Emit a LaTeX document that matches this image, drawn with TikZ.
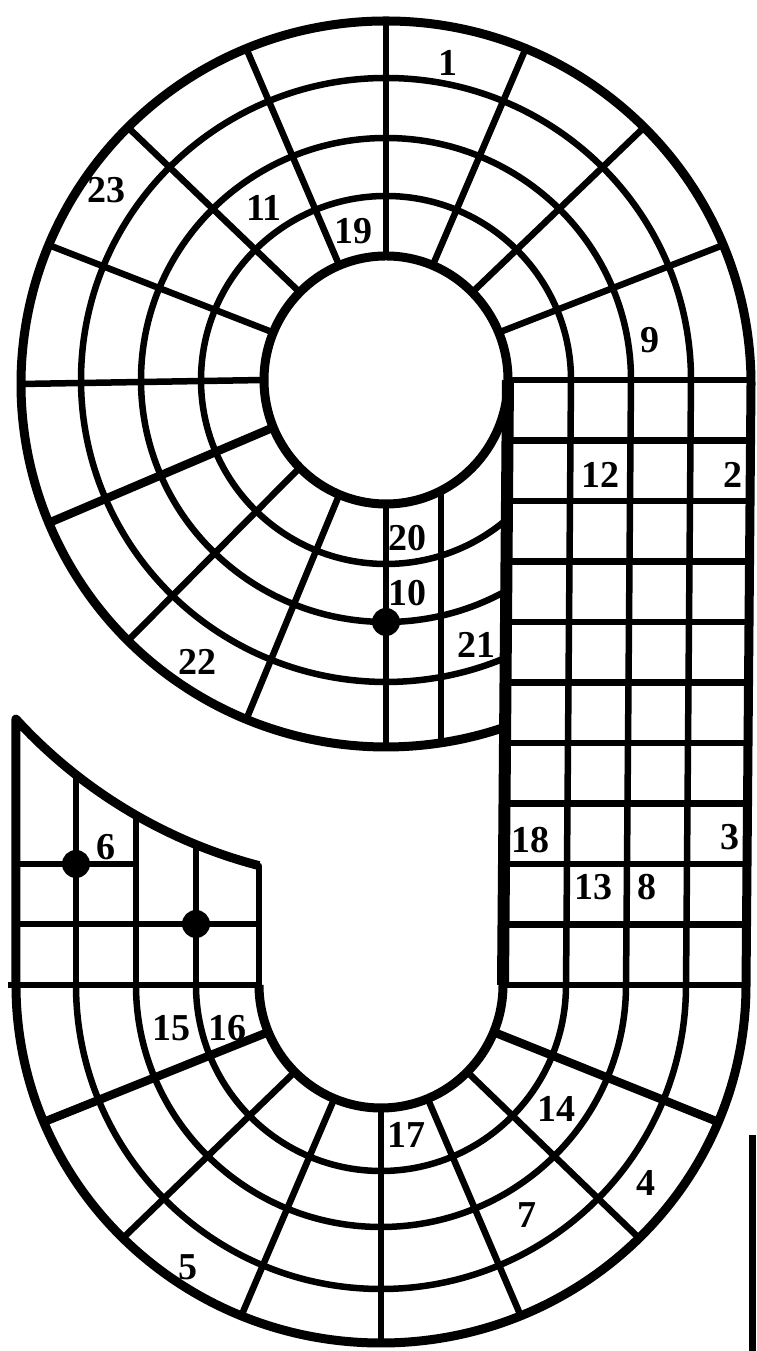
\documentclass[tikz,border=0pt]{standalone}
\usepackage{fontspec}
\setmainfont{Liberation Serif}
\usetikzlibrary{calc}
\tikzset{
    % Basic line styles of the board
    gridline/.style={line width=6.5pt, black},
    spokeline/.style={line width=8.5pt, black},
    rimline/.style={line width=9pt, black, line join=round},
    wallline/.style={line width=12pt, black},
    % Square numbers and markers
    squarelabel/.style={inner sep=0pt, font=\fontsize{38}{38}\selectfont\bfseries},
    marker/.style={circle, fill=black, minimum size=28pt, inner sep=0pt},
}

\begin{document}
\begin{tikzpicture}[x=1pt,y=1pt]
  \fill[white] (0,0) rectangle (756,1351);
  \useasboundingbox (0,0) rectangle (756,1351);
  % centres of the two wheels
  \coordinate (U) at (386,971);
  \coordinate (UO) at (386,967);
  \coordinate (L) at (381,366);
  % upper wheel: rings
  \draw[gridline] ($(U)+(185,0)$) arc[start angle=0, end angle=310.85, x radius=185, y radius=184];
  \draw[gridline] ($(U)+(245,0)$) arc[start angle=0, end angle=299.6, x radius=245, y radius=242];
  \draw[gridline] ($(U)+(305,0)$) arc[start angle=0, end angle=293.4, x radius=305, y radius=302];
  % upper wheel: spokes
  \draw[gridline] ($(U)+(22.5:122 and 124)$) -- ($(UO)+(22.5:365 and 363)$);
  \draw[gridline] ($(U)+(45:122 and 124)$) -- ($(UO)+(45:365 and 363)$);
  \draw[gridline] ($(U)+(67.5:122 and 124)$) -- ($(UO)+(67.5:365 and 363)$);
  \draw[gridline] ($(U)+(90:122 and 124)$) -- ($(UO)+(90:365 and 363)$);
  \draw[gridline] ($(U)+(112.5:122 and 124)$) -- ($(UO)+(112.5:365 and 363)$);
  \draw[gridline] ($(U)+(135:122 and 124)$) -- ($(UO)+(135:365 and 363)$);
  \draw[gridline] ($(U)+(157.5:122 and 124)$) -- ($(UO)+(157.5:365 and 363)$);
  \draw[gridline] ($(U)+(180:122 and 124)$) -- ($(UO)+(180:365 and 363)$);
  \draw[spokeline] ($(U)+(202.5:122 and 124)$) -- ($(UO)+(202.5:365 and 363)$);
  \draw[gridline] ($(U)+(225:122 and 124)$) -- ($(UO)+(225:365 and 363)$);
  \draw[gridline] ($(U)+(247.5:122 and 124)$) -- ($(UO)+(247.5:365 and 363)$);
  \draw[gridline] ($(U)+(270:122 and 124)$) -- ($(UO)+(270:365 and 363)$);
  \draw[gridline] (441,860) -- (441,608);
  % lower wheel: rings
  \draw[gridline] ($(L)+(-185,0)$) arc[start angle=180, end angle=360, x radius=185, y radius=186];
  \draw[gridline] ($(L)+(-245,0)$) arc[start angle=180, end angle=360, x radius=245, y radius=242];
  \draw[gridline] ($(L)+(-305,0)$) arc[start angle=180, end angle=360, x radius=305, y radius=304];
  % lower wheel: spokes
  \draw[spokeline] ($(L)+(202.5:122 and 123)$) -- ($(L)+(202.5:365 and 358)$);
  \draw[gridline] ($(L)+(225:122 and 123)$) -- ($(L)+(225:365 and 358)$);
  \draw[gridline] ($(L)+(247.5:122 and 123)$) -- ($(L)+(247.5:365 and 358)$);
  \draw[gridline] ($(L)+(270:122 and 123)$) -- ($(L)+(270:365 and 358)$);
  \draw[gridline] ($(L)+(292.5:122 and 123)$) -- ($(L)+(292.5:365 and 358)$);
  \draw[gridline] ($(L)+(315:122 and 123)$) -- ($(L)+(315:365 and 358)$);
  \draw[spokeline] ($(L)+(337.5:122 and 123)$) -- ($(L)+(337.5:365 and 358)$);
  % right straight: columns
  \coordinate (a0) at (508,971); \coordinate (b0) at (503,366);
  \coordinate (a1) at (571,971); \coordinate (b1) at (566,366);
  \coordinate (a2) at (631,971); \coordinate (b2) at (626,366);
  \coordinate (a3) at (691,971); \coordinate (b3) at (686,366);
  \coordinate (a4) at (751,971); \coordinate (b4) at (746,366);
  \draw[gridline] (a1) -- (b1);
  \draw[gridline] (a2) -- (b2);
  \draw[gridline] (a3) -- (b3);
  % right straight: rows
  \draw[gridline] (a0) -- (a4);
  \draw[gridline] ($(a0)!0.1!(b0)$) -- ($(a4)!0.1!(b4)$);
  \draw[gridline] ($(a0)!0.2!(b0)$) -- ($(a4)!0.2!(b4)$);
  \draw[gridline] ($(a0)!0.3!(b0)$) -- ($(a4)!0.3!(b4)$);
  \draw[gridline] ($(a0)!0.4!(b0)$) -- ($(a4)!0.4!(b4)$);
  \draw[gridline] ($(a0)!0.5!(b0)$) -- ($(a4)!0.5!(b4)$);
  \draw[gridline] ($(a0)!0.6!(b0)$) -- ($(a4)!0.6!(b4)$);
  \draw[gridline] ($(a0)!0.7!(b0)$) -- ($(a4)!0.7!(b4)$);
  \draw[gridline] ($(a0)!0.8!(b0)$) -- ($(a4)!0.8!(b4)$);
  \draw[gridline] ($(a0)!0.9!(b0)$) -- ($(a4)!0.9!(b4)$);
  \draw[gridline] (b0) -- (b4);
  % left straight
  \draw[gridline] (76,576) -- (76,366);
  \draw[gridline] (136,536) -- (136,366);
  \draw[gridline] (196,504) -- (196,366);
  \draw[gridline, line cap=round] (259,485) -- (259,366);
  \draw[gridline] (16,487) -- (136,487);
  \draw[gridline] (16,427) -- (259,427);
  \draw[gridline] (8,366) -- (259,366);
  % outline
  \draw[rimline] ($(U)+(255.35:502)$) arc[start angle=255.35, end angle=222.5, radius=502]
    -- (16,366) arc[start angle=180, end angle=360, x radius=365, y radius=358]
    -- (751,967) arc[start angle=0, end angle=289.36, x radius=365, y radius=363];
  \draw[rimline] (U) ellipse[x radius=122, y radius=124];
  \draw[rimline] (259,366) arc[start angle=180, end angle=360, x radius=122, y radius=123];
  \draw[wallline] (b0) -- (a0);
  \draw[line width=7pt] (752,0) -- (752,216);
  % markers
  \node[marker] (m1) at (386,729) {};
  \node[marker] (m2) at (76,487) {};
  \node[marker] (m3) at (196,427) {};
  % square numbers
  \node[squarelabel] (n1) at (448,1288) {1};
  \node[squarelabel] (n23) at (106,1161) {23};
  \node[squarelabel] (n11) at (264,1143) {11};
  \node[squarelabel] (n19) at (353,1120) {19};
  \node[squarelabel] (n9) at (650,1011) {9};
  \node[squarelabel] (n12) at (600,876) {12};
  \node[squarelabel] (n2) at (733,876) {2};
  \node[squarelabel] (n20) at (407,813) {20};
  \node[squarelabel] (n10) at (407,758) {10};
  \node[squarelabel] (n21) at (476,706) {21};
  \node[squarelabel] (n22) at (197,689) {22};
  \node[squarelabel] (n6) at (106,504) {6};
  \node[squarelabel] (n18) at (530,511) {18};
  \node[squarelabel] (n3) at (730,514) {3};
  \node[squarelabel] (n13) at (593,464) {13};
  \node[squarelabel] (n8) at (647,464) {8};
  \node[squarelabel] (n15) at (171,323) {15};
  \node[squarelabel] (n16) at (227,323) {16};
  \node[squarelabel] (n17) at (406,216) {17};
  \node[squarelabel] (n14) at (556,242) {14};
  \node[squarelabel] (n4) at (646,168) {4};
  \node[squarelabel] (n7) at (527,136) {7};
  \node[squarelabel] (n5) at (188,84) {5};
\end{tikzpicture}
\end{document}
